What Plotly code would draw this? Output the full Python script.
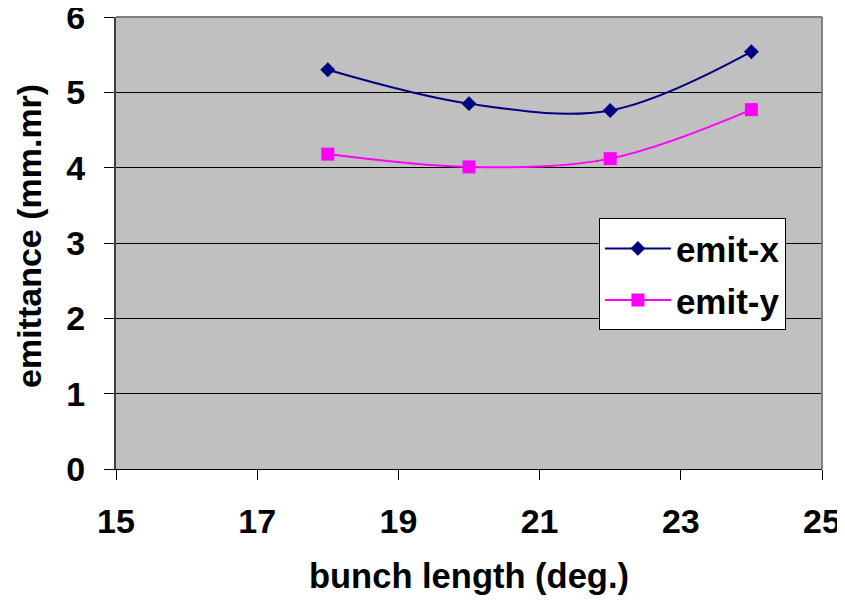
import plotly.graph_objects as go

bunch_length = [18, 20, 22, 24]
emit_x = [5.30, 4.85, 4.76, 5.54]
emit_y = [4.18, 4.01, 4.12, 4.77]
x_ticks = [15, 17, 19, 21, 23, 25]
y_ticks = [0, 1, 2, 3, 4, 5, 6]

FONT = "Liberation Sans, Arial, sans-serif"

fig = go.Figure()
fig.add_trace(go.Scatter(
    x=bunch_length, y=emit_x, name="emit-x", mode="lines+markers",
    line=dict(color="#000080", width=2, shape="spline", smoothing=1),
    marker=dict(symbol="diamond", size=11.5, color="#000080"),
    legendgroup="a",
))
fig.add_trace(go.Scatter(
    x=bunch_length, y=emit_y, name="emit-y", mode="lines+markers",
    line=dict(color="#FF00FF", width=2, shape="spline", smoothing=1),
    marker=dict(symbol="square", size=13, color="#FF00FF"),
    legendgroup="b",
))

fig.update_layout(
    width=837, height=593,
    margin=dict(l=108, r=23, t=9, b=132, autoexpand=False),
    paper_bgcolor="white", plot_bgcolor="#C0C0C0",
    font=dict(family=FONT, size=34, color="black"),
    showlegend=True,
    legend=dict(
        x=0.684, y=0.555, xanchor="left", yanchor="top",
        bgcolor="white", bordercolor="black", borderwidth=1,
        font=dict(family=FONT, size=35, color="black", weight="bold"),
        traceorder="grouped", tracegroupgap=3, itemwidth=66,
    ),
    xaxis=dict(
        range=[15, 25], tickvals=x_ticks, ticktext=[str(v) for v in x_ticks],
        showgrid=False, zeroline=False, automargin=False,
        showline=True, linecolor="black", linewidth=1,
        ticks="outside", ticklen=10, tickcolor="black",
        ticklabelstandoff=12, ticklabeloverflow="allow",
        tickfont=dict(family=FONT, size=34, color="black", weight="bold"),
        title=dict(text="bunch length (deg.)", standoff=25,
                   font=dict(family=FONT, size=34.5, color="black", weight="bold")),
    ),
    yaxis=dict(
        range=[0, 6], tickvals=y_ticks, ticktext=[str(v) for v in y_ticks],
        showgrid=True, gridcolor="black", gridwidth=1, zeroline=False,
        automargin=False,
        showline=True, linecolor="#404040", linewidth=2,
        ticks="outside", ticklen=10, tickcolor="black",
        ticklabelstandoff=12, ticklabeloverflow="allow",
        tickfont=dict(family=FONT, size=34, color="black", weight="bold"),
    ),
    annotations=[
        dict(text="emittance (mm.mr)", xref="paper", yref="paper",
             x=-0.1232, y=0.5155, xanchor="center", yanchor="middle",
             textangle=-90, showarrow=False,
             font=dict(family=FONT, size=34, color="black", weight="bold")),
    ],
    shapes=[
        dict(type="line", xref="paper", yref="paper", x0=0, x1=1, y0=1, y1=1,
             line=dict(color="#808080", width=2), layer="above"),
        dict(type="line", xref="paper", yref="paper", x0=1, x1=1, y0=0, y1=1,
             line=dict(color="#808080", width=2), layer="above"),
    ],
)

fig.write_html("out.html")
